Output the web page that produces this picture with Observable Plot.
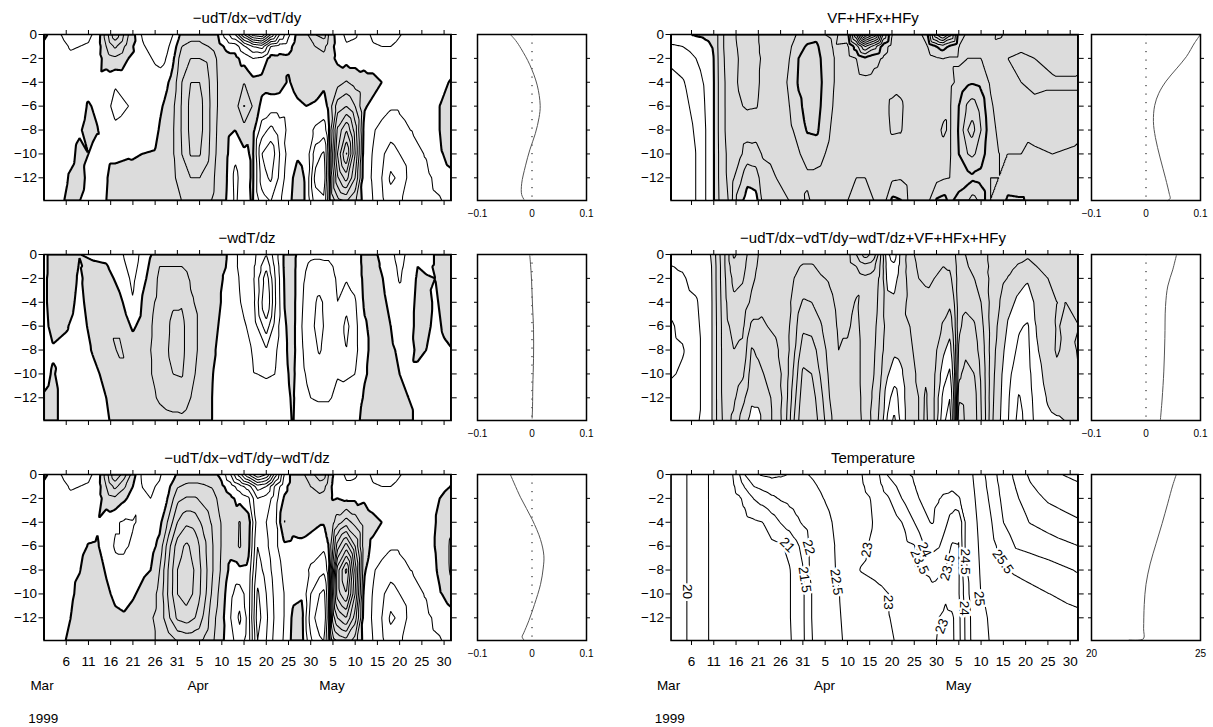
<!DOCTYPE html>
<html><head><meta charset="utf-8">
<script src="https://cdn.jsdelivr.net/npm/d3@7"></script>
<script src="https://cdn.jsdelivr.net/npm/@observablehq/plot@0.6"></script>
<style>
body{margin:0;background:#fff;}
#page{position:relative;width:1213px;height:727px;overflow:hidden;background:#fff;font-family:"Liberation Sans",Arial,sans-serif;}
#page svg{position:absolute;}
</style></head><body><div id="page"></div>
<script>
// ---- shared axes -------------------------------------------------------
// days since 1 March 1999 and the day-of-month printed under each tick
const tickDays = [5,10,15,20,25,30,35,40,45,50,55,60,65,70,75,80,85,90];
const tickLabels = ["6","11","16","21","26","31","5","10","15","20","25","30","5","10","15","20","25","30"];
const monthNames = ["Mar","Apr","May"];
const yearLabel = "1999";
const depthTicks = [0,-2,-4,-6,-8,-10,-12];
// depth levels (m) of every grid column below
const depths = [0,-1,-2,-4,-6,-8,-10,-12,-14];

// ---- -udT/dx-vdT/dy ----------------------------------------------------
const hAdvDays = [0,3,6,8,10,12,14,16,19,22,25,27,29,31,33,35,37,39,41,43,45,47,49,51,53,55,57,59,61,63,64,66,68,70,72,74,76,78,80,83,86,89,92];
const hAdv = [
[0.3,-0.3,-0.5,-0.5,-0.5,-0.5,-0.5,-0.5,-0.5],
[-0.8,-0.5,-0.4,-0.4,-0.4,-0.4,-0.5,-0.4,-0.3],
[-1.5,-1.1,-0.8,-0.5,-0.4,-0.3,-0.2,0.1,0.3],
[-1.4,-1.0,-0.7,-0.5,-0.4,-0.1,0.2,0.3,0.0],
[-1.2,-0.9,-0.6,-0.4,0.1,0.3,0.0,-0.2,-0.3],
[-0.7,-0.6,-0.5,-0.4,-0.2,0.05,-0.3,-0.4,-0.4],
[1.5,1.0,0.5,-0.6,-0.7,-0.5,-0.2,-0.05,0.0],
[3.8,2.2,0.8,-0.9,-1.3,-0.8,-0.2,0.3,0.3],
[1.0,0.5,0.0,-0.8,-1.0,-0.6,-0.1,0.4,0.5],
[-1.05,-0.9,-0.7,-0.5,-0.5,-0.3,0.0,0.3,0.5],
[-1.5,-1.3,-1.1,-0.7,-0.5,-0.25,0.05,0.3,0.4],
[-1.8,-1.5,-1.2,-0.4,0.1,0.4,0.5,0.5,0.4],
[-1.0,-0.6,-0.2,0.4,0.8,0.9,0.9,0.8,0.6],
[0.3,1.0,1.6,2.0,2.1,2.1,2.0,1.5,1.0],
[0.6,1.3,2.0,3.0,3.3,3.3,3.1,2.0,1.1],
[0.6,1.3,2.0,3.0,3.4,3.4,3.1,2.0,1.0],
[0.2,1.0,1.8,2.1,2.2,2.2,2.1,1.8,1.2],
[0.1,0.5,0.9,1.0,1.0,0.9,0.8,0.6,0.5],
[-1.5,-0.2,0.3,0.6,0.6,0.3,0.2,0.1,0.0],
[-3.0,-0.4,0.3,0.8,0.5,0.0,-0.8,-1.3,-1.2],
[-6.0,-1.8,-0.4,1.0,2.1,0.6,-0.2,-0.4,-0.3],
[-8.5,-3.0,-1.0,0.3,0.9,0.3,0.15,0.15,0.1],
[-9.0,-3.5,-0.8,0.4,-0.3,-1.5,-3.0,-2.5,-1.5],
[-6.0,-1.0,0.4,0.5,-0.5,-2.3,-3.8,-3.2,-2.0],
[-3.0,-0.5,0.3,0.4,-0.5,-1.5,-2.0,-1.8,-1.2],
[-1.2,-0.4,0.2,-0.1,-0.6,-0.8,-0.6,-0.3,-0.2],
[0.3,0.6,0.8,0.4,-0.2,-0.3,-0.1,0.3,0.4],
[0.8,1.0,0.9,0.5,0.0,-0.4,-0.3,-0.1,-0.1],
[2.0,1.0,0.8,0.4,-0.1,-1.2,-2.5,-3.3,-2.5],
[2.5,1.2,0.8,0.2,-0.4,-1.5,-3.2,-3.6,-2.8],
[1.0,0.6,0.4,0.4,0.2,-0.2,-0.6,-0.8,-0.5],
[-0.5,-0.4,-0.2,0.6,2.5,4.2,5.0,3.8,1.5],
[-1.2,-0.9,-0.4,1.1,3.0,6.0,8.2,5.5,2.0],
[-1.1,-0.8,-0.4,0.6,2.0,3.5,4.0,3.0,1.2],
[-0.6,-0.6,-0.3,0.3,0.1,-0.3,-0.5,-0.6,-0.4],
[-1.2,-0.9,-0.5,0.3,-0.2,-0.9,-1.05,-1.1,-1.0],
[-1.3,-1.0,-0.6,0.0,-0.6,-1.3,-1.8,-2.0,-1.8],
[-1.3,-1.0,-0.7,-0.5,-0.9,-1.5,-2.5,-3.2,-2.5],
[-1.05,-0.8,-0.6,-0.5,-0.9,-1.2,-2.0,-2.8,-2.2],
[-0.6,-0.6,-0.6,-0.6,-0.7,-0.95,-1.2,-1.3,-1.2],
[-0.5,-0.5,-0.5,-0.5,-0.5,-0.7,-0.95,-1.2,-1.3],
[-0.5,-0.5,-0.4,-0.2,0.0,0.0,-0.2,-0.7,-1.1],
[-0.4,-0.4,-0.3,0.1,0.9,1.2,0.6,-0.3,-0.6]];

// ---- -wdT/dz -----------------------------------------------------------
const vAdvDays = [0,2,5,8,11,14,17,20,23,26,29,31,33,36,38,41,44,47,50,52,54,56,58,60,62,64,66,68,70,72,74,76,78,80,82,84,86,88,90,92];
const vAdv = [
[-0.2,-0.2,-0.2,-0.2,-0.3,-0.4,-0.3,0.1,0.2],
[0.3,0.3,0.4,0.4,0.3,-0.1,0.1,0.3,0.3],
[0.6,0.6,0.6,0.5,0.1,-0.3,-0.5,-0.5,-0.5],
[0.02,-0.05,-0.15,-0.3,-0.5,-0.6,-0.6,-0.6,-0.6],
[-0.2,0.2,0.5,0.6,0.4,0.1,-0.3,-0.4,-0.4],
[-0.3,0.1,0.5,0.9,0.9,0.7,0.3,0.0,-0.1],
[-0.8,-0.6,-0.4,0.3,0.9,1.1,0.8,0.5,0.3],
[-1.5,-1.4,-1.2,-0.95,-0.2,0.6,0.8,0.6,0.4],
[-0.4,-0.2,0.0,0.5,0.7,0.8,0.8,0.7,0.5],
[0.6,1.0,1.2,1.3,1.4,1.4,1.3,1.1,0.7],
[0.7,1.0,1.4,1.9,2.2,2.3,2.0,1.3,0.8],
[0.7,1.0,1.4,1.9,2.3,2.3,2.1,1.4,0.8],
[0.5,0.7,0.9,1.1,1.3,1.3,1.2,1.0,0.6],
[0.4,0.5,0.6,0.7,0.7,0.7,0.6,0.5,0.4],
[0.3,0.3,0.3,0.3,0.2,0.1,0.0,-0.05,-0.05],
[0.05,0.0,-0.1,-0.2,-0.3,-0.4,-0.4,-0.4,-0.3],
[-1.2,-1.2,-1.05,-0.95,-0.7,-0.6,-0.5,-0.4,-0.3],
[-1.7,-1.8,-1.8,-1.6,-1.3,-1.05,-0.95,-0.5,-0.3],
[-3.0,-3.8,-4.6,-5.1,-3.6,-1.9,-1.1,-0.6,-0.3],
[-1.5,-1.8,-2.0,-2.1,-1.6,-1.2,-1.0,-0.5,-0.3],
[0.1,0.1,0.05,0.0,-0.1,-0.15,-0.2,-0.25,-0.3],
[0.3,0.3,0.3,0.3,0.3,0.3,0.2,0.1,0.05],
[-0.5,-0.7,-0.8,-0.9,-1.0,-0.9,-0.8,-0.6,-0.2],
[-0.8,-1.2,-1.4,-1.7,-1.8,-1.6,-1.3,-1.0,-0.5],
[-0.8,-1.3,-1.5,-2.2,-2.3,-2.1,-1.5,-1.1,-0.5],
[-0.8,-1.2,-1.4,-1.6,-1.6,-1.5,-1.3,-1.1,-0.5],
[-0.6,-0.8,-0.9,-1.0,-1.2,-1.2,-1.05,-0.8,-0.4],
[-0.5,-0.7,-0.9,-1.7,-2.3,-2.0,-1.1,-0.7,-0.3],
[-0.4,-0.5,-0.7,-1.1,-1.3,-1.3,-1.0,-0.6,-0.2],
[0.2,0.2,0.2,0.1,-0.1,-0.2,-0.1,0.1,0.2],
[0.3,0.3,0.3,0.3,0.2,0.2,0.2,0.3,0.3],
[-0.3,-0.1,0.05,0.2,0.3,0.3,0.3,0.3,0.3],
[-0.8,-0.6,-0.4,-0.2,0.0,0.1,0.2,0.3,0.3],
[-1.3,-1.2,-1.1,-0.6,-0.3,-0.1,0.0,0.1,0.2],
[-0.8,-0.7,-0.5,-0.4,-0.3,-0.2,-0.1,0.0,0.1],
[-0.2,0.0,0.1,0.2,0.2,0.1,-0.1,-0.1,-0.1],
[-0.3,-0.1,0.05,0.1,0.1,0.0,-0.1,-0.1,-0.1],
[0.05,0.05,0.0,-0.05,-0.1,-0.15,-0.2,-0.2,-0.2],
[0.2,0.2,0.15,0.1,0.05,-0.05,-0.1,-0.2,-0.2],
[0.3,0.3,0.3,0.2,0.1,0.0,-0.1,-0.2,-0.2]];

// ---- -udT/dx-vdT/dy-wdT/dz ---------------------------------------------
const advDays = [0,3,6,8,10,12,14,16,18,20,22,24,26,28,30,32,34,36,38,40,42,44,46,48,50,52,54,56,58,60,62,63,64,65,66,68,70,72,74,76,78,80,83,86,89,92];
const adv = [
[0.3,-0.3,-0.5,-0.5,-0.5,-0.5,-0.5,-0.5,-0.5],
[-0.8,-0.5,-0.4,-0.4,-0.4,-0.4,-0.5,-0.4,-0.3],
[-1.5,-1.1,-0.8,-0.5,-0.4,-0.3,-0.2,0.0,0.2],
[-1.4,-1.0,-0.7,-0.5,-0.3,-0.05,0.3,0.6,0.6],
[-1.2,-0.9,-0.6,-0.4,0.05,0.5,0.8,0.9,0.8],
[-0.7,-0.6,-0.5,-0.1,0.1,0.4,0.6,0.7,0.6],
[1.5,1.0,0.5,-0.6,-0.5,-0.1,0.2,0.4,0.4],
[4.0,2.3,0.8,-0.9,-1.1,-0.7,-0.2,0.2,0.3],
[2.5,1.2,0.2,-1.1,-1.1,-0.8,-0.3,0.1,0.3],
[0.5,0.0,-0.4,-1.05,-0.9,-0.5,-0.1,0.3,0.5],
[-1.1,-1.0,-0.9,-0.9,-0.6,-0.2,0.2,0.6,0.7],
[-1.2,-1.1,-1.0,-0.8,-0.4,0.0,0.5,0.9,0.9],
[-1.1,-0.9,-0.7,-0.3,0.3,1.0,1.3,1.3,1.1],
[-0.5,-0.2,0.1,1.2,2.6,3.1,3.2,2.8,1.5],
[0.1,0.9,1.7,3.0,4.5,5.0,5.0,4.2,2.0],
[0.4,1.2,2.1,3.8,5.2,5.6,5.5,4.5,2.2],
[0.5,1.2,2.1,3.6,4.6,4.9,4.8,4.0,2.1],
[0.5,1.1,1.7,2.6,3.3,3.5,3.4,2.8,1.8],
[0.3,0.9,1.3,1.8,2.0,2.0,1.7,1.3,1.1],
[-0.3,0.2,0.6,0.9,0.9,0.8,0.5,0.3,0.2],
[-2.0,-0.5,0.2,0.6,0.4,-0.3,-0.8,-1.0,-0.7],
[-4.5,-1.5,-0.3,1.05,1.1,-0.2,-1.5,-2.2,-1.5],
[-7.0,-2.5,-0.8,0.5,0.3,-0.3,-0.5,-0.6,-0.5],
[-9.0,-4.5,-3.0,-2.5,-3.0,-3.5,-4.2,-4.5,-4.0],
[-8.0,-4.0,-2.6,-2.0,-2.2,-2.6,-3.0,-3.2,-3.0],
[-4.5,-1.8,-1.5,-1.3,-1.3,-1.5,-1.7,-1.8,-1.6],
[-1.0,-0.3,0.1,1.05,-0.2,-0.8,-1.0,-1.0,-0.9],
[0.5,0.5,0.5,0.4,-0.3,-0.4,-0.2,0.2,0.3],
[0.8,0.9,0.8,0.4,-0.2,-0.4,-0.1,0.3,0.4],
[1.5,1.0,0.8,0.3,-0.4,-1.2,-2.0,-2.5,-1.8],
[2.8,1.3,0.8,0.1,-0.6,-1.6,-3.0,-3.6,-2.8],
[2.5,1.2,0.7,0.1,-0.8,-1.8,-3.3,-3.8,-3.0],
[1.0,0.5,0.3,0.3,0.0,-0.5,-1.0,-1.2,-0.8],
[0.0,-0.2,-0.1,0.8,2.0,3.5,4.5,3.5,1.5],
[-0.4,-0.3,0.0,1.5,4.5,7.5,7.5,5.0,2.0],
[-1.2,-0.8,-0.2,2.5,6.5,10.3,9.0,6.0,2.5],
[-1.1,-0.8,-0.2,1.6,4.0,5.5,5.0,3.5,1.5],
[-0.6,-0.5,-0.1,0.5,0.4,0.2,-0.3,-0.5,-0.4],
[-1.2,-0.9,-0.5,0.3,-0.2,-0.9,-1.05,-1.1,-1.0],
[-1.3,-1.0,-0.6,0.0,-0.6,-1.3,-1.8,-2.0,-1.8],
[-1.3,-1.0,-0.7,-0.5,-0.9,-1.5,-2.5,-3.2,-2.5],
[-1.05,-0.8,-0.6,-0.5,-0.9,-1.2,-2.0,-2.8,-2.2],
[-0.6,-0.6,-0.6,-0.6,-0.7,-0.95,-1.2,-1.3,-1.2],
[-0.5,-0.5,-0.5,-0.5,-0.5,-0.7,-0.95,-1.2,-1.3],
[-0.3,-0.2,0.0,0.2,0.3,0.2,-0.1,-0.7,-1.1],
[-0.2,0.05,0.3,0.8,1.3,1.3,0.5,-0.3,-0.6]];

// ---- VF+HFx+HFy --------------------------------------------------------
const fluxDays = [0,3,6,8,10,11,12.5,14,15.5,17.5,19.5,21,24,27,29,31,33,35,37,40,42,44,46,48,50,52,54,56,58,60,61.5,63,65,67,68,70,72,74,76,79,82,86,89,92];
const flux = [
[-0.2,-1.2,-1.8,-2.4,-2.6,-2.7,-2.7,-2.7,-2.7],
[-0.1,-1.0,-1.5,-2.1,-2.3,-2.4,-2.4,-2.4,-2.4],
[0.1,-0.6,-1.0,-1.4,-1.7,-1.9,-2.0,-2.0,-2.0],
[0.2,-0.3,-0.6,-0.9,-1.0,-1.1,-1.1,-1.1,-1.1],
[0.4,0.1,0.0,-0.05,-0.05,-0.05,-0.05,-0.05,-0.05],
[1.1,1.1,1.05,1.0,1.0,1.0,0.95,0.95,0.9],
[2.2,2.2,2.1,2.0,2.0,2.0,1.9,1.9,1.8],
[2.8,2.8,2.7,2.6,2.6,2.5,2.4,2.3,2.2],
[3.1,3.05,3.0,3.05,2.9,2.7,2.4,1.5,0.5],
[3.5,3.4,3.3,3.2,3.1,2.5,1.5,0.3,-0.5],
[3.2,3.2,3.2,3.1,3.05,2.4,1.6,0.5,-0.4],
[2.7,2.8,2.9,2.9,2.8,2.5,2.1,1.6,1.2],
[2.0,2.2,2.4,2.6,2.6,2.5,2.3,2.0,1.8],
[2.4,2.8,3.0,3.1,3.0,2.8,2.5,2.2,2.0],
[3.2,3.7,4.0,4.1,3.8,3.3,2.9,2.6,2.5],
[3.6,4.1,4.3,4.4,4.3,4.1,3.4,2.8,3.2],
[3.7,4.2,4.4,4.5,4.4,4.2,3.3,2.8,2.6],
[3.0,3.4,3.6,3.7,3.6,3.4,3.0,2.7,2.5],
[2.8,2.9,3.0,3.0,2.9,2.7,2.5,2.4,2.3],
[3.5,2.8,2.6,2.5,2.4,2.3,2.2,2.1,2.0],
[8.0,4.5,3.0,2.6,2.5,2.4,2.2,2.0,1.9],
[13.0,7.0,3.8,2.7,2.6,2.4,2.2,2.0,1.9],
[11.0,5.5,3.3,2.6,2.5,2.4,2.2,2.1,2.0],
[6.0,3.5,2.9,2.5,2.6,2.6,2.4,2.3,2.5],
[3.0,2.6,2.5,2.6,3.2,3.1,2.6,2.8,4.3],
[2.4,2.5,2.6,2.8,3.1,3.05,2.7,2.9,4.1],
[2.2,2.3,2.5,2.6,2.7,2.6,2.5,2.5,2.7],
[2.5,2.4,2.5,2.5,2.4,2.4,2.4,2.4,2.5],
[4.0,3.0,2.6,2.5,2.4,2.4,2.4,2.5,2.8],
[8.0,4.0,2.9,2.6,2.6,2.8,2.6,2.7,4.2],
[9.5,4.5,3.0,2.7,2.8,3.1,2.8,2.9,4.4],
[7.5,3.8,2.9,2.8,2.9,2.9,2.9,3.0,3.8],
[3.5,3.0,2.9,3.2,4.0,4.1,4.0,3.3,4.5],
[2.8,2.9,3.0,3.8,5.2,6.0,5.0,3.6,5.0],
[2.8,2.9,3.0,3.9,5.5,6.4,5.2,3.8,5.5],
[2.8,2.9,3.0,3.7,4.6,5.0,4.6,3.6,4.8],
[2.5,2.6,2.7,2.9,3.2,3.4,3.2,3.0,3.0],
[3.3,2.4,2.2,2.4,2.6,2.8,3.0,3.0,3.2],
[2.6,2.2,2.0,2.2,2.5,2.8,3.0,3.2,4.3],
[2.4,2.1,1.9,2.0,2.4,2.9,3.0,3.2,4.2],
[2.6,2.3,2.0,1.8,2.2,2.8,3.1,3.2,3.4],
[2.8,2.5,2.2,1.9,2.2,2.7,3.0,3.2,3.3],
[2.9,2.6,2.3,1.9,2.2,2.8,3.05,3.2,3.3],
[3.0,2.6,2.2,1.9,2.2,2.9,3.1,3.2,3.3]];

// ---- total tendency ------------------------------------------------------
const totalDays = [0,3,6,8,9.5,10.5,11.5,12.5,14.5,16.5,18.5,20,22,24,26,28,30,32,34,36,38,40,42,44,46,47.5,49,50.5,52,54,56,57.5,59.5,61.5,63,64,65,66.5,68.5,70.5,72.5,74.5,76.5,78.5,80.5,82.5,85,87,89,92];
const total = [
[-0.6,-1.05,-1.2,-1.6,-2.2,-2.3,-2.2,-1.5,-1.2],
[-0.4,-0.9,-1.1,-1.3,-1.7,-2.1,-1.8,-1.4,-1.2],
[-0.3,-0.5,-0.7,-1.1,-1.2,-1.2,-1.2,-1.2,-1.1],
[-0.2,-0.3,-0.4,-0.6,-0.7,-0.8,-0.8,-0.8,-0.8],
[0.05,0.0,-0.05,-0.1,-0.1,-0.1,-0.1,-0.1,-0.1],
[1.1,1.0,1.0,0.95,0.9,0.9,0.9,0.9,0.9],
[2.1,2.0,2.0,1.9,1.8,1.8,1.8,1.8,1.7],
[3.0,3.0,2.9,2.8,2.7,2.6,2.6,2.5,2.4],
[5.2,4.7,4.3,3.8,3.3,3.0,2.7,2.2,1.8],
[4.5,4.3,4.1,3.6,3.2,2.8,2.2,1.3,0.5],
[3.5,3.4,3.2,2.8,1.8,0.9,0.5,0.2,-0.4],
[3.0,2.9,2.8,2.5,1.8,1.2,0.7,0.2,-0.3],
[2.6,2.6,2.5,2.3,2.0,1.6,1.2,0.8,0.8],
[2.4,2.4,2.4,2.3,2.1,1.9,1.6,1.3,1.2],
[2.4,2.5,2.5,2.5,2.4,2.3,2.3,2.4,2.6],
[2.5,2.8,3.0,3.3,3.6,3.8,4.2,4.6,5.0],
[2.6,3.1,3.4,4.1,4.8,5.5,6.2,6.6,6.9],
[2.6,3.1,3.4,4.0,4.7,5.4,6.0,6.5,6.8],
[2.5,2.8,3.1,3.6,4.1,4.6,4.9,5.3,5.6],
[2.4,2.6,2.9,3.2,3.4,3.6,3.8,4.0,4.3],
[2.3,2.5,2.6,2.8,2.9,3.0,3.05,3.1,3.2],
[2.6,2.5,2.5,2.6,2.9,3.1,3.2,3.3,3.3],
[4.0,3.0,2.6,3.1,3.2,3.3,3.3,3.4,3.4],
[5.5,3.6,2.8,2.7,2.6,2.6,2.6,2.6,2.7],
[4.5,3.2,2.6,2.4,2.2,2.1,2.0,1.8,1.6],
[2.0,1.8,1.7,1.6,1.5,1.3,1.1,0.8,0.6],
[-0.8,-0.5,-0.3,0.3,0.6,0.5,0.1,-0.6,-1.2],
[-1.5,-0.8,-0.4,0.2,0.5,0.2,-0.5,-1.5,-2.3],
[0.3,0.4,0.5,0.7,0.8,0.3,-0.2,-0.6,-0.8],
[1.5,1.4,1.3,1.2,1.0,0.9,0.8,0.8,0.8],
[2.5,2.2,2.0,1.6,1.3,1.2,1.1,1.0,1.0],
[2.8,2.5,2.2,1.6,1.1,1.3,1.8,2.2,2.3],
[2.4,2.2,2.0,1.7,1.5,1.3,1.1,1.0,1.0],
[2.2,2.0,1.8,1.4,0.9,0.2,-0.5,-1.3,-1.8],
[2.4,2.1,1.8,1.2,0.4,-0.4,-1.2,-2.0,-2.5],
[2.8,2.6,2.4,2.0,1.6,1.2,0.8,0.4,0.2],
[3.6,3.5,3.5,3.6,3.8,4.2,4.8,5.8,7.0],
[3.0,3.1,3.3,3.8,4.3,4.8,5.3,5.6,5.8],
[2.6,2.8,3.0,3.6,4.1,4.5,5.0,5.4,5.5],
[2.2,2.3,2.5,2.8,3.0,3.2,3.4,3.5,3.6],
[1.8,1.8,1.7,1.6,1.5,1.4,1.3,1.2,1.1],
[1.6,1.4,1.2,0.9,0.6,0.3,0.1,0.0,-0.1],
[1.5,1.2,0.9,0.3,-0.3,-0.6,-0.9,-1.1,-1.2],
[1.3,0.9,0.5,-0.3,-0.9,-1.2,-1.6,-2.1,-2.4],
[1.2,0.6,0.1,-0.4,-1.1,-1.2,-1.3,-1.4,-1.5],
[1.4,1.0,0.6,0.2,0.1,-0.1,-0.4,-0.6,-0.7],
[1.6,1.3,1.0,0.8,0.7,0.6,0.4,0.1,-0.2],
[1.8,1.5,1.2,1.0,1.05,1.1,0.8,0.3,-0.1],
[1.9,1.6,1.3,1.0,0.9,0.8,0.6,0.3,0.0],
[2.0,1.7,1.4,1.1,1.0,1.05,1.0,0.5,0.0]];

// ---- temperature (deg C) -----------------------------------------------
const tempDays = [0,4,8.8,12.6,14.3,15.8,17,19,21,23,25,27,28.5,30,31.5,33,35,37,41,43,45,47,49,51,53,55,57,59,60.5,62,63.5,65,66.5,68,70,72,75,78,81,85,92];
const temp = [
[19.85,19.85,19.85,19.85,19.85,19.85,19.85,19.85,19.85],
[20.0,20.0,20.0,20.0,20.0,20.0,20.0,20.0,20.0],
[20.5,20.5,20.5,20.5,20.5,20.5,20.5,20.5,20.5],
[20.85,20.8,20.75,20.66,20.61,20.6,20.6,20.6,20.58],
[21.0,20.93,20.86,20.73,20.66,20.65,20.64,20.64,20.62],
[21.5,21.2,20.95,20.79,20.7,20.69,20.68,20.68,20.66],
[22.02,21.55,21.11,20.84,20.74,20.73,20.72,20.72,20.7],
[22.45,22.0,21.52,20.92,20.79,20.77,20.77,20.77,20.75],
[22.55,22.15,21.71,21.0,20.84,20.82,20.82,20.82,20.8],
[22.6,22.28,21.9,21.26,20.9,20.88,20.87,20.87,20.85],
[22.55,22.32,22.05,21.52,20.96,20.93,20.93,20.93,20.91],
[22.49,22.33,22.14,21.74,21.09,20.98,20.98,20.98,20.96],
[22.47,22.35,22.21,21.91,21.36,21.17,21.13,21.13,21.11],
[22.47,22.38,22.28,22.05,21.68,21.46,21.4,21.4,21.38],
[22.51,22.43,22.35,22.15,22.03,22.01,21.95,21.95,21.93],
[22.56,22.49,22.42,22.26,22.15,22.13,22.11,22.11,22.09],
[22.63,22.58,22.52,22.4,22.32,22.3,22.28,22.27,22.25],
[22.7,22.66,22.62,22.53,22.49,22.47,22.44,22.42,22.4],
[22.86,22.84,22.81,22.74,22.76,22.85,22.64,22.63,22.61],
[22.97,22.94,22.9,22.85,22.89,23.02,22.73,22.72,22.7],
[23.18,23.09,22.99,22.96,23.02,23.08,22.82,22.81,22.79],
[23.45,23.33,23.21,23.09,23.11,23.14,22.9,22.9,22.88],
[24.02,23.72,23.43,23.24,23.2,23.2,22.99,22.99,22.97],
[24.23,24.0,23.79,23.38,23.29,23.28,23.06,23.03,23.01],
[24.46,24.3,24.14,23.58,23.38,23.35,23.12,23.07,23.05],
[24.55,24.49,24.43,24.0,23.47,23.44,23.2,23.1,23.08],
[24.6,24.58,24.56,24.4,23.94,23.53,23.31,23.08,23.06],
[24.67,24.62,24.57,24.53,24.17,23.58,23.43,23.06,23.04],
[24.7,24.62,24.52,24.4,24.04,23.56,23.36,23.0,22.98],
[24.74,24.6,24.44,24.1,23.75,23.49,23.1,22.85,22.8],
[24.8,24.58,24.36,23.78,23.45,23.35,23.3,22.9,22.88],
[24.84,24.66,24.47,23.58,23.48,23.45,23.46,23.37,23.35],
[24.9,24.78,24.66,24.55,24.57,24.42,24.25,24.08,24.06],
[24.98,24.94,24.9,24.83,24.79,24.75,24.72,24.64,24.62],
[25.3,25.26,25.21,25.14,25.09,25.05,25.01,24.93,24.91],
[25.76,25.66,25.57,25.42,25.3,25.21,25.08,25.03,25.01],
[26.23,26.18,26.13,26.0,25.72,25.46,25.18,25.08,25.06],
[26.63,26.54,26.45,26.3,26.05,25.58,25.27,25.14,25.12],
[27.1,26.94,26.78,26.52,26.14,25.67,25.37,25.2,25.18],
[27.42,27.25,27.07,26.69,26.27,25.79,25.49,25.27,25.25],
[27.6,27.45,27.3,26.95,26.5,26.05,25.65,25.4,25.38]];
const tempLevels = [19.5,20,20.5,21,21.5,22,22.5,23,23.5,24,24.5,25,25.5,26,26.5,27,27.5];
const tempLabelDays  = [4, 26.5, 30.4, 31.3, 37.5, 44.4, 49.2, 56.2, 57.3, 62.5, 66.5, 66.3, 61.2, 69.6, 74.9];
const tempLabelDepth = [-9.8, -5.9, -8.8, -6.1, -9.0, -6.3, -10.7, -7.3, -6.3, -7.8, -7.3, -11.2, -12.7, -10.4, -7.3];
const tempLabelText  = ["20","21","21.5","22","22.5","23","23","23.5","24","23.5","24.5","24","23","25","25.5"];
const tempLabelAngle = [90, 45, 82, 75, 82, -80, 90, 65, 65, -75, 90, 90, -70, 85, 55];

// ---- time-mean depth profiles --------------------------------------------
const profHAdvZ = [0,-0.5,-1.19,-2.54,-4.24,-5.93,-6.95,-8.31,-9.66,-11.0,-12.5,-13.4,-13.8];
const profHAdvV = [-0.0397,-0.030,-0.020,-0.004,0.0095,0.015,0.013,0.006,-0.004,-0.012,-0.019,-0.019,-0.015];
const profVAdvZ = [-0.1,-1.6,-4.3,-6.3,-8.7,-11.0,-12.7,-13.7];
const profVAdvV = [-0.004,-0.0015,0.001,0.0028,0.0028,0.0015,0.001,0.0003];
const profAdvZ = [0,-1.9,-3.76,-5.46,-6.81,-7.83,-9.19,-10.88,-12.24,-13.26,-13.6,-13.84];
const profAdvV = [-0.0397,-0.0212,0.0003,0.0157,0.0218,0.0206,0.0157,0.0046,-0.0058,-0.0151,-0.0182,-0.0151];
const profFluxZ = [0,-0.68,-1.86,-2.88,-3.9,-4.92,-5.93,-7.29,-8.64,-10.34,-12.03,-13.39,-13.73,-13.9];
const profFluxV = [0.1,0.0895,0.074,0.0556,0.037,0.0235,0.016,0.0136,0.0173,0.026,0.0358,0.043,0.0444,0.040];
const profTotalZ = [-0.1,-1.29,-2.64,-4.34,-7.05,-9.76,-12.1,-13.8];
const profTotalV = [0.0556,0.049,0.040,0.0358,0.0346,0.0327,0.0296,0.0265];
const profTempZ = [0,-0.88,-2.4,-4.1,-5.8,-7.49,-9.19,-10.88,-12.92,-13.76,-13.86];
const profTempV = [23.89,23.73,23.5,23.24,22.96,22.69,22.5,22.42,22.39,22.38,21.73];

// ---- drawing -------------------------------------------------------------
const FONT = "'Liberation Sans', Arial, Helvetica, sans-serif";
const page = document.getElementById("page");
const leftDomain = [0, 91.6];
const rightDomain = [0.4, 91.8];
// contour levels are nudged by a hair so that grid nodes sitting exactly on a
// level do not produce degenerate, dotted segments
const NUDGE = 1e-3;

function gridPoints(days, rows) {
  return days.flatMap((d, i) => depths.map((z, j) => ({d, z, v: rows[i][j]})));
}
function range(a, b) { const out = []; for (let k = a; k <= b; k++) out.push(k); return out; }
function dayLabel(d) { return tickLabels[tickDays.indexOf(d)]; }

function fieldPanel({days, rows, thin, thick, shade, domain, showLabels, extra = []}) {
  const pts = gridPoints(days, rows);
  const base = {x: "d", y: "z", value: "v", interpolate: "barycentric", pixelSize: 1, clip: true};
  const nudge = (t) => t.map(k => k + NUDGE);
  return Plot.plot({
    width: 460, height: 204,
    marginLeft: 43.5, marginRight: 9.3, marginTop: 8, marginBottom: 30,
    x: {domain, axis: null},
    y: {domain: [-13.9, 0], axis: null},
    style: {fontFamily: FONT, fontSize: "13.5px", color: "black", background: "transparent", overflow: "visible"},
    marks: [
      shade ? Plot.contour(pts, {...base, thresholds: nudge([0]), fill: "#dcdcdc", stroke: "none"}) : null,
      Plot.contour(pts, {...base, thresholds: nudge(thin), fill: "none", stroke: "black", strokeWidth: 1.05}),
      thick.length ? Plot.contour(pts, {...base, thresholds: nudge(thick), fill: "none", stroke: "black", strokeWidth: 2.1}) : null,
      ...extra,
      Plot.frame({stroke: "black", strokeWidth: 1.5}),
      Plot.axisX({anchor: "bottom", ticks: tickDays, tickSize: 5, tickPadding: 11, label: null,
                  tickFormat: showLabels ? dayLabel : () => ""}),
      Plot.axisX({anchor: "top", ticks: tickDays, tickSize: 5, label: null, tickFormat: () => ""}),
      Plot.axisY({anchor: "left", ticks: depthTicks, tickSize: 5, tickPadding: 2, label: null}),
      Plot.axisY({anchor: "right", ticks: depthTicks, tickSize: 5, label: null, tickFormat: () => ""})
    ]
  });
}

function profilePanel({z, v, domain, ticks, labels, zero}) {
  const data = z.map((zz, i) => ({z: zz, v: v[i]}));
  return Plot.plot({
    width: 130, height: 198,
    marginLeft: 12, marginRight: 9, marginTop: 8, marginBottom: 24,
    x: {domain, axis: null},
    y: {domain: [-13.9, 0], axis: null},
    style: {fontFamily: FONT, fontSize: "10px", color: "black", background: "transparent", overflow: "visible"},
    marks: [
      zero ? Plot.ruleX([0], {stroke: "black", strokeWidth: 1, strokeDasharray: "1.2,7.3"}) : null,
      Plot.line(data, {x: "v", y: "z", stroke: "#555", strokeWidth: 1, curve: "catmull-rom"}),
      Plot.frame({stroke: "black", strokeWidth: 1.5}),
      Plot.axisX({anchor: "bottom", ticks, tickSize: 0, tickPadding: 9, label: null,
                  tickFormat: d => labels[ticks.indexOf(d)]}),
      Plot.axisY({anchor: "left", ticks: depthTicks.slice(1), tickSize: 3, label: null, tickFormat: () => ""}),
      Plot.axisY({anchor: "right", ticks: depthTicks.slice(1), tickSize: 3, label: null, tickFormat: () => ""})
    ]
  });
}

function place(svg, left, top) {
  svg.style.left = left + "px";
  svg.style.top = top + "px";
  page.appendChild(svg);
}

const rowTops = [34.3, 254.3, 474.3];
const fluxLevels = range(-15, 15).filter(k => k !== 0);
const profTicks = [-0.1, 0, 0.1];
const profLabels = ["\u22120.1", "0", "0.1"];

// left column
place(fieldPanel({days: hAdvDays, rows: hAdv, thin: fluxLevels, thick: [0], shade: true, domain: leftDomain}), 0, rowTops[0] - 8);
place(fieldPanel({days: vAdvDays, rows: vAdv, thin: fluxLevels, thick: [0], shade: true, domain: leftDomain}), 0, rowTops[1] - 8);
place(fieldPanel({days: advDays, rows: adv, thin: fluxLevels, thick: [0], shade: true, domain: leftDomain, showLabels: true}), 0, rowTops[2] - 8);
place(profilePanel({z: profHAdvZ, v: profHAdvV, domain: [-0.1, 0.1], ticks: profTicks, labels: profLabels, zero: true}), 465, rowTops[0] - 8);
place(profilePanel({z: profVAdvZ, v: profVAdvV, domain: [-0.1, 0.1], ticks: profTicks, labels: profLabels, zero: true}), 465, rowTops[1] - 8);
place(profilePanel({z: profAdvZ, v: profAdvV, domain: [-0.1, 0.1], ticks: profTicks, labels: profLabels, zero: true}), 465, rowTops[2] - 8);

// right column
place(fieldPanel({days: fluxDays, rows: flux, thin: fluxLevels.filter(k => k !== 4), thick: [0, 4], shade: true, domain: rightDomain}), 626.5, rowTops[0] - 8);
place(fieldPanel({days: totalDays, rows: total, thin: range(-15, 15), thick: [], shade: true, domain: rightDomain}), 626.5, rowTops[1] - 8);
const tempLabels = tempLabelText.map((t, i) => ({d: tempLabelDays[i], z: tempLabelDepth[i], t, a: tempLabelAngle[i]}));
place(fieldPanel({days: tempDays, rows: temp, thin: tempLevels, thick: [], shade: false, domain: rightDomain, showLabels: true,
  extra: [Plot.text(tempLabels, {x: "d", y: "z", text: "t", rotate: "a", fill: "black", stroke: "white", strokeWidth: 5, fontSize: 13.5})]}), 626.5, rowTops[2] - 8);
place(profilePanel({z: profFluxZ, v: profFluxV, domain: [-0.1, 0.1], ticks: profTicks, labels: profLabels, zero: true}), 1079, rowTops[0] - 8);
place(profilePanel({z: profTotalZ, v: profTotalV, domain: [-0.1, 0.1], ticks: profTicks, labels: profLabels, zero: true}), 1079, rowTops[1] - 8);
place(profilePanel({z: profTempZ, v: profTempV, domain: [20, 25], ticks: [20, 25], labels: ["20", "25"], zero: false}), 1079, rowTops[2] - 8);

// titles and date captions
const titles = [
  ["\u2212udT/dx\u2212vdT/dy", 247, 23], ["\u2212wdT/dz", 247, 243], ["\u2212udT/dx\u2212vdT/dy\u2212wdT/dz", 247, 463],
  ["VF+HFx+HFy", 873, 23], ["\u2212udT/dx\u2212vdT/dy\u2212wdT/dz+VF+HFx+HFy", 873, 243], ["Temperature", 873, 463]
];
const overlay = d3.create("svg").attr("width", 1213).attr("height", 727)
  .style("left", "0px").style("top", "0px").style("pointer-events", "none")
  .attr("font-family", FONT);
overlay.selectAll("text.title").data(titles).join("text")
  .attr("x", d => d[1]).attr("y", d => d[2]).attr("text-anchor", "middle")
  .attr("font-size", 15).text(d => d[0]);
const monthX = [42, 198, 332];
for (const off of [0, 626.5]) {
  monthNames.forEach((m, i) => overlay.append("text").attr("x", monthX[i] + off).attr("y", 690)
    .attr("text-anchor", "middle").attr("font-size", 13.5).text(m));
  overlay.append("text").attr("x", 43.3 + off).attr("y", 722.5).attr("text-anchor", "middle")
    .attr("font-size", 13.5).text(yearLabel);
}
page.appendChild(overlay.node());
</script></body></html>
